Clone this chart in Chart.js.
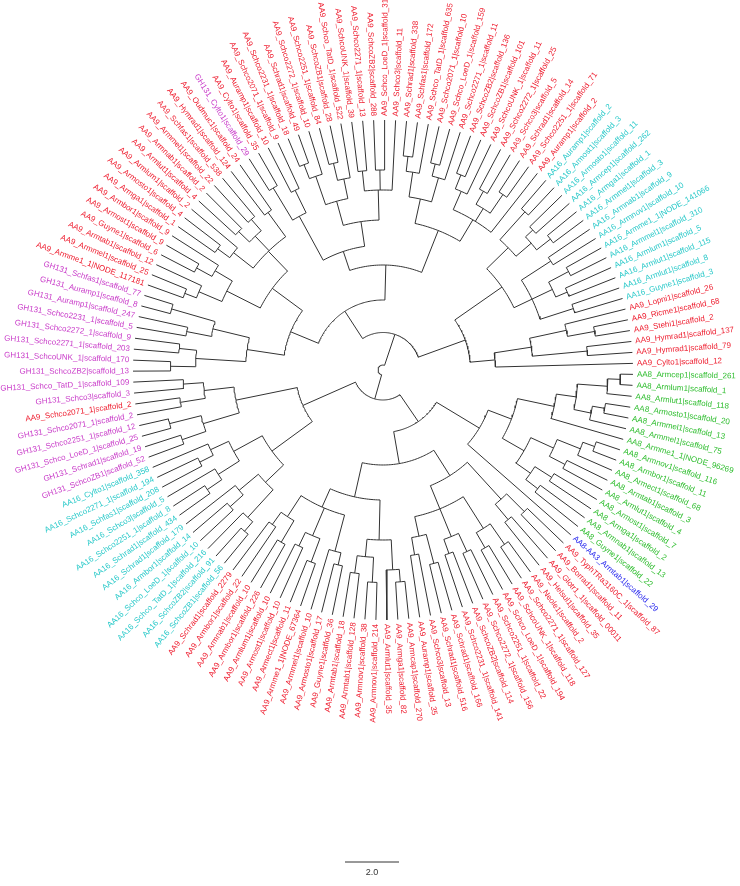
<!DOCTYPE html>
<html>
<head>
<meta charset="utf-8">
<script src="https://cdn.jsdelivr.net/npm/chart.js@4.4.0/dist/chart.umd.min.js"></script>
<style>
  html, body { margin: 0; padding: 0; background: #fff; }
  #wrap { width: 740px; height: 886px; }
</style>
</head>
<body>
<div id="wrap"><canvas id="tree"></canvas></div>
<script>
// Leaf labels, clockwise starting from the right (3 o'clock)
const aa8Leaves = ['AA8_Armcep1|scaffold_261', 'AA8_Armlum1|scaffold_1', 'AA8_Armlut1|scaffold_118', 'AA8_Armosto1|scaffold_20',
    'AA8_Armmel1|scaffold_13', 'AA8_Armmel1|scaffold_75', 'AA8_Armme1_1|NODE_96269', 'AA8_Armnov1|scaffold_116',
    'AA8_Armbor1|scaffold_11', 'AA8_Armect1|scaffold_68', 'AA8_Armtab1|scaffold_3', 'AA8_Armlut1|scaffold_4',
    'AA8_Armost1|scaffold_7', 'AA8_Armga1|scaffold_2', 'AA8_Armnab1|scaffold_13', 'AA8_Guyne1|scaffold_22',
    'AA8-AA3_Armtab1|scaffold_29'];
const aa9BottomLeaves = ['AA9_TyphTRa3160C_1|scaffold_87', 'AA9_Borrad1|scaffold_11', 'AA9_Glotr1_1|scaffold_00011', 'AA9_Helsul1|scaffold_35',
    'AA9_Neole1|scaffold_2', 'AA9_Schco2271_1|scaffold_127', 'AA9_SchcoUNK_1|scaffold_118', 'AA9_Schco_LoeD_1|scaffold_194',
    'AA9_Schco2251_1|scaffold_22', 'AA9_Schco2272_1|scaffold_156', 'AA9_SchcoZB2|scaffold_114', 'AA9_Schco2231_1|scaffold_141',
    'AA9_Schrad1|scaffold_166', 'AA9_Schrad1|scaffold_516', 'AA9_Schco3|scaffold_13', 'AA9_Auramp1|scaffold_35',
    'AA9_Armcap1|scaffold_270', 'AA9_Armga1|scaffold_82', 'AA9_Armlut1|scaffold_35', 'AA9_Armnov1|scaffold_214',
    'AA9_Armnov1|scaffold_38', 'AA9_Armtab1|scaffold_128', 'AA9_Armtab1|scaffold_18', 'AA9_Guyne1|scaffold_36',
    'AA9_Armosto1|scaffold_17', 'AA9_Armmel1|scaffold_10', 'AA9_Armme1_1|NODE_67364', 'AA9_Armect1|scaffold_11',
    'AA9_Armost1|scaffold_10', 'AA9_Armlum1|scaffold_10', 'AA9_Armbor1|scaffold_226', 'AA9_Armnab1|scaffold_10',
    'AA9_Armbor1|scaffold_22', 'AA9_Schrad1|scaffold_2279'];
const aa16LowerLeaves = ['AA16_SchcoZB1|scaffold_56', 'AA16_SchcoZB2|scaffold_91', 'AA16_Schco_TatD_1|scaffold_216', 'AA16_Schco_LoeD_1|scaffold_10',
    'AA16_Armbor1|scaffold_14', 'AA16_Schrad1|scaffold_179', 'AA16_Schrad1|scaffold_434', 'AA16_Schco2251_1|scaffold_8',
    'AA16_Schco3|scaffold_5', 'AA16_Schfas1|scaffold_208', 'AA16_Schco2271_1|scaffold_194', 'AA16_Cylto1|scaffold_358'];
const gh131Leaves = ['GH131_SchcoZB1|scaffold_52', 'GH131_Schrad1|scaffold_19', 'GH131_Schco_LoeD_1|scaffold_25', 'GH131_Schco2251_1|scaffold_12',
    'GH131_Schco2071_1|scaffold_2', 'AA9_Schco2071_1|scaffold_2', 'GH131_Schco3|scaffold_3', 'GH131_Schco_TatD_1|scaffold_109',
    'GH131_SchcoZB2|scaffold_13', 'GH131_SchcoUNK_1|scaffold_170', 'GH131_Schco2271_1|scaffold_203', 'GH131_Schco2272_1|scaffold_9',
    'GH131_Schco2231_1|scaffold_5', 'GH131_Auramp1|scaffold_247', 'GH131_Auramp1|scaffold_8', 'GH131_Schfas1|scaffold_77'];
const aa9LeftLeaves = ['AA9_Armme1_1|NODE_117181', 'AA9_Armmel1|scaffold_25', 'AA9_Armtab1|scaffold_12', 'AA9_Guyne1|scaffold_6',
    'AA9_Armost1|scaffold_9', 'AA9_Armbor1|scaffold_9', 'AA9_Armga1|scaffold_1', 'AA9_Armosto1|scaffold_4',
    'AA9_Armlum1|scaffold_2', 'AA9_Armlut1|scaffold_4', 'AA9_Armnab1|scaffold_2', 'AA9_Armmel1|scaffold_22',
    'AA9_Schfas1|scaffold_538', 'AA9_Hymrad1|scaffold_124', 'AA9_Oudmuc1|scaffold_24', 'GH131_Cylto1|scaffold_29'];
const aa9TopLeaves = ['AA9_Cylto1|scaffold_35', 'AA9_Auramp1|scaffold_10', 'AA9_Schco2071_1|scaffold_9', 'AA9_Schco2231_1|scaffold_18',
    'AA9_Schrad1|scaffold_49', 'AA9_Schco2272_1|scaffold_10', 'AA9_Schco2251_1|scaffold_84', 'AA9_SchcoZB1|scaffold_28',
    'AA9_Schco_TatD_1|scaffold_522', 'AA9_SchcoUNK_1|scaffold_39', 'AA9_Schco2271_1|scaffold_13', 'AA9_SchcoZB2|scaffold_288',
    'AA9_Schco_LoeD_1|scaffold_312', 'AA9_Schco3|scaffold_11', 'AA9_Schrad1|scaffold_338', 'AA9_Schfas1|scaffold_172',
    'AA9_Schco_TatD_1|scaffold_635', 'AA9_Schco2071_1|scaffold_10', 'AA9_Schco_LoeD_1|scaffold_159', 'AA9_Schco2271_1|scaffold_11',
    'AA9_SchcoZB2|scaffold_136', 'AA9_SchcoZB1|scaffold_101', 'AA9_SchcoUNK_1|scaffold_11', 'AA9_Schco2272_1|scaffold_25',
    'AA9_Schco3|scaffold_5', 'AA9_Schrad1|scaffold_14', 'AA9_Schco2251_1|scaffold_71', 'AA9_Auramp1|scaffold_2'];
const aa16UpperLeaves = ['AA16_Auramp1|scaffold_2', 'AA16_Armost1|scaffold_3', 'AA16_Armosto1|scaffold_11', 'AA16_Armcep1|scaffold_262',
    'AA16_Armga1|scaffold_1', 'AA16_Armmel1|scaffold_3', 'AA16_Armnab1|scaffold_9', 'AA16_Armnov1|scaffold_10',
    'AA16_Armme1_1|NODE_141066', 'AA16_Armmel1|scaffold_310', 'AA16_Armlum1|scaffold_5', 'AA16_Armlut1|scaffold_115',
    'AA16_Armlut1|scaffold_8', 'AA16_Guyne1|scaffold_3'];
const aa9RightLeaves = ['AA9_Lopni1|scaffold_26', 'AA9_Ricme1|scaffold_68', 'AA9_Stehi1|scaffold_2',
    'AA9_Hymrad1|scaffold_137', 'AA9_Hymrad1|scaffold_79', 'AA9_Cylto1|scaffold_12'];

const leaves = [].concat(aa8Leaves, aa9BottomLeaves, aa16LowerLeaves, gh131Leaves,
    aa9LeftLeaves, aa9TopLeaves, aa16UpperLeaves, aa9RightLeaves);

// Topology: leaf indices, number after ")" = node depth (0 root .. 1 tips)
const aa8Clade = '((((((0,1)0.95,2)0.9,((3,4)0.9,5)0.85)0.78,6)0.7,((((7,8)0.9,9)0.85,(10,11)0.82)0.75,((12,13)0.8,(14,15)0.78)0.72)0.65)0.55,16)0.45';
const redLower1 = '(((17,18)0.8,(19,20)0.78)0.7,(((21,22)0.85,(23,24)0.82)0.75,((25,26)0.8,(27,28)0.78)0.72,((29,30)0.8,(31,32)0.75)0.68)0.6)0.5';
const redLower2 = '((((33,34)0.85,35)0.8,((36,37)0.85,(38,39)0.82)0.75)0.68,(((40,41)0.8,42)0.75,((43,44)0.82,(45,46)0.78)0.72,((47,48)0.8,(49,50)0.76)0.7)0.6)0.52';
const cyanLower = '((((51,52)0.85,53)0.8,((54,55)0.82,56)0.75)0.65,(((57,58)0.85,59)0.78,((60,61)0.82,62)0.76)0.68)0.55';
const ghLower = '(((63,64)0.85,(65,66)0.88)0.75,((67,68)0.82,(69,70)0.8)0.72)0.6';
const ghUpper = '(((71,72)0.85,(73,74)0.82)0.75,((75,76)0.8,(77,78)0.88)0.7)0.55';
const aa9Left = '((((79,80)0.85,81)0.8,((82,83)0.85,84)0.78)0.7,(((85,86)0.82,87)0.76,((88,89)0.8,(90,91)0.8)0.74,(92,93)0.78)0.66)0.55';
const aa9Top1 = '((94,95)0.85,(96,97)0.8)0.7';
const aa9Top2 = '((((98,99)0.88,100)0.82,((101,102)0.85,103)0.78)0.7,((104,105)0.8,(106,107)0.8,108)0.72)0.6';
const aa9Top3 = '((((109,110)0.86,111)0.8,((112,113)0.85,114)0.8)0.7,(((115,116)0.84,117)0.78,((118,119)0.82,(120,121)0.85)0.76,122)0.7)0.6';
const aa16Upper = '(((123,124)0.85,((125,126)0.82,(127,128)0.85)0.78)0.7,((129,130)0.8,((131,132)0.84,(133,134)0.8)0.75,(135,136)0.8)0.66)0.58';
const aa9Right = '(((137,(138,139)0.86)0.75,(140,141)0.82)0.6,142)0.45';

const newick = '(((' + aa8Clade + ',(' + redLower1 + ',' + redLower2 + ')0.38)0.25,(' + cyanLower + ',' + ghLower + ')0.35)0.12,'
    + '(((' + ghUpper + ',' + aa9Left + ')0.4,((' + aa9Top1 + ',' + aa9Top2 + ')0.5,' + aa9Top3 + ')0.42)0.28,(' + aa16Upper + ',' + aa9Right + ')0.35)0.15)0.02';

const CX = 383, CY = 370, R_TIP = 250;
const START_DEG = 1;
const STEP_DEG = 360 / leaves.length;

function leafColor(name) {
    if (name.startsWith('AA8-AA3')) return '#2a2aee';
    if (name.startsWith('AA8')) return '#2ebd2e';
    if (name.startsWith('AA16')) return '#29c9c9';
    if (name.startsWith('GH131')) return '#c93cc9';
    return '#ee1c2e';
}

// parse newick into nodes
function parseTree(str) {
    let pos = 0;
    function num() {
        const m = /^[0-9.]+/.exec(str.slice(pos));
        pos += m[0].length;
        return parseFloat(m[0]);
    }
    function node() {
        if (str[pos] === '(') {
            pos++;
            const children = [node()];
            while (str[pos] === ',') { pos++; children.push(node()); }
            pos++; // ')'
            const depth = num();
            const angles = children.map(c => c.angle);
            const angle = (Math.min(...angles) + Math.max(...angles)) / 2;
            return { children, depth, angle };
        }
        const idx = num();
        return { leaf: idx, depth: 1, angle: START_DEG + idx * STEP_DEG };
    }
    return node();
}

function polar(r, deg) {
    const a = deg * Math.PI / 180;
    return { x: r * Math.cos(a), y: -r * Math.sin(a) };
}

// build branch segments (NaN point breaks the line)
const GAP = { x: NaN, y: NaN };
const branchPoints = [];
function walk(n) {
    if (!n.children) return;
    const r = n.depth * R_TIP;
    const angles = n.children.map(c => c.angle);
    const a0 = Math.min(...angles), a1 = Math.max(...angles);
    for (let a = a0; a < a1; a += 1) branchPoints.push(polar(r, a));
    branchPoints.push(polar(r, a1));
    branchPoints.push(GAP);
    n.children.forEach(c => {
        branchPoints.push(polar(r, c.angle));
        branchPoints.push(polar(c.depth * R_TIP, c.angle));
        branchPoints.push(GAP);
        walk(c);
    });
}
const root = parseTree(newick);
walk(root);

const labelPlugin = {
    id: 'labels',
    afterDatasetsDraw(chart) {
        const { ctx, scales } = chart;
        ctx.save();
        ctx.font = '8px "Liberation Sans", Arial, sans-serif';
        ctx.textBaseline = 'middle';
        leaves.forEach((name, i) => {
            const deg = START_DEG + i * STEP_DEG;
            const p = polar(R_TIP + 4, deg);
            const px = scales.x.getPixelForValue(p.x);
            const py = scales.y.getPixelForValue(p.y);
            let d = ((deg % 360) + 360) % 360;
            ctx.save();
            ctx.translate(px, py);
            ctx.fillStyle = leafColor(name);
            if (d > 90 && d < 270) {
                ctx.rotate((d - 180) * Math.PI / 180);
                ctx.textAlign = 'right';
            } else {
                ctx.rotate(d * Math.PI / 180);
                ctx.textAlign = 'left';
            }
            ctx.fillText(name, 0, 0);
            ctx.restore();
        });
        // scale bar
        const y = scales.y.getPixelForValue(-492);
        ctx.strokeStyle = '#333';
        ctx.lineWidth = 1;
        ctx.beginPath();
        ctx.moveTo(scales.x.getPixelForValue(-38), y);
        ctx.lineTo(scales.x.getPixelForValue(16), y);
        ctx.stroke();
        ctx.fillStyle = '#333';
        ctx.textAlign = 'center';
        ctx.font = '9px "Liberation Sans", Arial, sans-serif';
        ctx.fillText('2.0', scales.x.getPixelForValue(-11), y + 11);
        ctx.restore();
    }
};

new Chart(document.getElementById('tree'), {
    type: 'scatter',
    data: {
        datasets: [{
            data: branchPoints,
            showLine: true,
            spanGaps: false,
            borderColor: '#333',
            borderWidth: 1,
            pointRadius: 0,
            fill: false
        }]
    },
    options: {
        responsive: true,
        maintainAspectRatio: false,
        animation: false,
        layout: { padding: 0 },
        plugins: { legend: { display: false }, tooltip: { enabled: false } },
        scales: {
            x: { type: 'linear', display: false, min: -CX, max: 740 - CX },
            y: { type: 'linear', display: false, min: CY - 886, max: CY }
        }
    },
    plugins: [labelPlugin]
});
</script>
</body>
</html>
